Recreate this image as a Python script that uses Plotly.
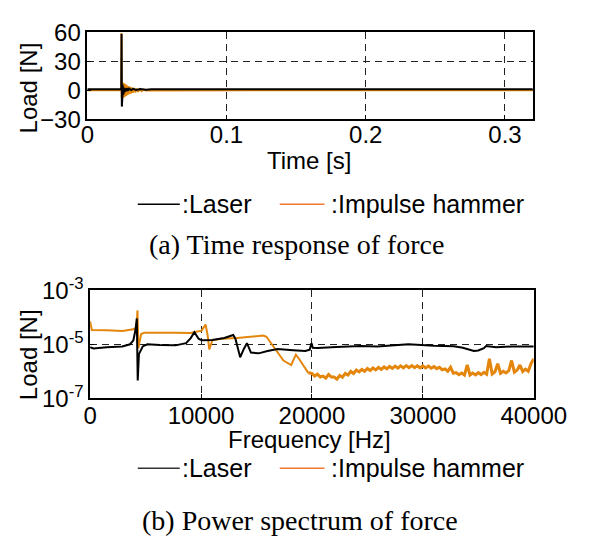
import plotly.graph_objects as go

# ---------------- data: (a) time response ----------------
laser_time_s = [0.0, 0.0244, 0.0246, 0.0248, 0.0250, 0.0252, 0.0254, 0.0256, 0.0258, 0.0261,
                0.0264, 0.0268, 0.0272, 0.0277, 0.0283, 0.0290, 0.0300, 0.0315, 0.0330,
                0.0350, 0.0380, 0.0420, 0.0460, 0.32]
laser_load_N = [0.8, 0.8, 58.0, -17.0, 9.0, -7.0, 5.5, -4.5, 3.5, -3.0,
                2.5, -2.0, 1.8, -1.0, 2.0, -0.5, 1.6, 0.0, 1.4,
                0.2, 1.2, 0.4, 1.0, 0.8]

hammer_time_s = [0.0, 0.0243, 0.0245, 0.0247, 0.0250, 0.0253, 0.0256, 0.0259, 0.0262, 0.0265,
                 0.0268, 0.0271, 0.0275, 0.0279, 0.0283, 0.0288, 0.0293, 0.0299, 0.0305,
                 0.0312, 0.0319, 0.0327, 0.0335, 0.0344, 0.0354, 0.0365, 0.0377, 0.0390,
                 0.0405, 0.0420, 0.32]
hammer_load_N = [0.0, 0.0, 59.0, -8.0, 8.0, -8.0, 7.5, -7.5, 7.0, -7.0,
                 6.5, -6.5, 6.0, -6.0, 5.0, -5.0, 4.2, -4.2, 3.5,
                 -3.5, 2.8, -2.8, 2.2, -2.2, 1.6, -1.6, 1.1, -1.1,
                 0.6, -0.3, 0.0]

# ---------------- data: (b) power spectrum ----------------
laser_freq_Hz = [0, 300, 1500, 2900, 3600, 3900, 4100, 4210, 4290, 4400, 4740, 5160, 6300, 7700,
                 8650, 9070, 9400, 9780, 10060, 11000, 12100, 12900, 13100, 13530, 13860, 14140,
                 14500, 15200, 16000, 16900, 18300, 19400, 19800, 19950, 20080, 20500, 22200,
                 24400, 25900, 28700, 31000, 32800, 33600, 34600, 35000, 35500, 35700, 36600,
                 38000, 40000]
laser_power = [7.8e-6, 7.0e-6, 7.8e-6, 8.3e-6, 1.0e-5, 1.4e-5, 3.6e-5, 9.1e-5, 4.5e-7, 4.3e-6,
               8.3e-6, 1.0e-5, 9.3e-6, 9.1e-6, 1.1e-5, 1.7e-5, 2.8e-5, 1.6e-5, 1.4e-5, 1.45e-5,
               1.7e-5, 2.2e-5, 1.6e-5, 3.3e-6, 6.7e-6, 1.1e-5, 4.9e-6, 4.6e-6, 5.6e-6, 6.7e-6,
               6.0e-6, 5.6e-6, 6.3e-6, 1.1e-5, 7.4e-6, 7.2e-6, 7.9e-6, 8.7e-6, 8.3e-6, 1.0e-5,
               8.9e-6, 8.5e-6, 7.4e-6, 5.6e-6, 5.9e-6, 7.2e-6, 8.6e-6, 7.7e-6, 8.3e-6, 8.3e-6]

# smooth part of the impulse-hammer spectrum (below ~20 kHz)
hammer_freq_Hz = [0, 150, 1500, 2900, 3900, 4180, 4270, 4350, 4600, 4880, 7700, 9070, 10050,
                  10410, 10600, 10740, 11020, 11850, 13250, 14640, 15620, 15900, 16320, 16880,
                  17430, 18130, 18550, 18830, 19250, 19670]
hammer_power = [7.1e-5, 3.4e-5, 3.3e-5, 3.1e-5, 3.6e-5, 4.2e-5, 1.8e-4, 7.3e-6, 2.4e-5, 2.7e-5,
                2.7e-5, 2.6e-5, 3.2e-5, 5.4e-5, 2.1e-5, 6.5e-6, 1.4e-5, 1.6e-5, 1.7e-5, 1.9e-5,
                2.1e-5, 1.9e-5, 1.1e-5, 4.9e-6, 2.5e-6, 1.7e-6, 4.1e-6, 2.9e-6, 1.5e-6, 8.7e-7]

# noisy part of the impulse-hammer spectrum (20-40 kHz)
hammer_noise_freq_Hz = [19670,
    20000, 20250, 20500, 20750, 21000, 21250, 21500, 21750, 22000, 22250,
    22500, 22750, 23000, 23250, 23500, 23750, 24000, 24250, 24500, 24750,
    25000, 25250, 25500, 25750, 26000, 26250, 26500, 26750, 27000, 27250,
    27500, 27750, 28000, 28250, 28500, 28750, 29000, 29250, 29500, 29750,
    30000, 30250, 30500, 30750, 31000, 31250, 31500, 31750, 32000, 32250,
    32500, 32750, 33000, 33250, 33500, 33750, 34000, 34250, 34500, 34750,
    35000, 35250, 35500, 35750, 36000, 36250, 36500, 36750, 37000, 37250,
    37500, 37750, 38000, 38250, 38500, 38750, 39000, 39250, 39500, 39750,
    40000]
hammer_noise_power = [8.7e-7,
    8.3e-7, 6.6e-7, 7.8e-7, 6.1e-7, 6.6e-7, 5.5e-7, 7.6e-7, 6.1e-7, 6.1e-7, 5.1e-7,
    6.9e-7, 6.0e-7, 8.3e-7, 7.2e-7, 9.8e-7, 8.2e-7, 1.1e-6, 9.4e-7, 1.17e-6, 1.0e-6,
    1.26e-6, 1.06e-6, 1.32e-6, 1.12e-6, 1.38e-6, 1.17e-6, 1.45e-6, 1.23e-6, 1.5e-6, 1.27e-6,
    1.55e-6, 1.3e-6, 1.58e-6, 1.33e-6, 1.61e-6, 1.35e-6, 1.62e-6, 1.36e-6, 1.6e-6, 1.34e-6,
    1.58e-6, 1.32e-6, 1.55e-6, 1.29e-6, 1.5e-6, 1.24e-6, 1.4e-6, 1.13e-6, 1.22e-6, 1.0e-6,
    1.4e-6, 8.4e-7, 8.9e-7, 7.4e-7, 8.6e-7, 7.2e-7, 1.7e-6, 7.2e-7, 8.6e-7, 7.3e-7,
    8.8e-7, 7.5e-7, 9.1e-7, 7.7e-7, 2.9e-6, 7.9e-7, 9.5e-7, 1.9e-6, 8.4e-7, 1.0e-6,
    8.6e-7, 1.05e-6, 2.5e-6, 9.2e-7, 1.1e-6, 1.7e-6, 9.8e-7, 1.2e-6, 1.0e-6, 1.9e-6,
    2.9e-6]

time_ticks = [0, 0.1, 0.2, 0.3]
time_tick_text = ["0", "0.1", "0.2", "0.3"]
load_ticks = [-30, 0, 30, 60]
freq_ticks = [0, 10000, 20000, 30000, 40000]
freq_tick_text = ["0", "10000", "20000", "30000", "40000"]
power_ticks = [1e-7, 1e-5, 1e-3]
power_tick_text = ["10<sup>-7</sup>", "10<sup>-5</sup>", "10<sup>-3</sup>"]

BLACK = "#000000"
ORANGE = "#E3860B"
LEG_ORANGE = "#F07A30"
SANS = "Liberation Sans, Arial, sans-serif"
SERIF = "Liberation Serif, Times New Roman, serif"

W, H = 606, 554


def px(x):
    return x / W


def py(y):
    return 1 - y / H


fig = go.Figure()
fig.add_trace(go.Scatter(x=hammer_time_s, y=hammer_load_N, mode="lines",
                         line=dict(color=ORANGE, width=2), xaxis="x", yaxis="y"))
fig.add_trace(go.Scatter(x=laser_time_s, y=laser_load_N, mode="lines",
                         line=dict(color=BLACK, width=2), xaxis="x", yaxis="y"))
fig.add_trace(go.Scatter(x=hammer_freq_Hz, y=hammer_power, mode="lines",
                         line=dict(color=ORANGE, width=2), xaxis="x2", yaxis="y2"))
fig.add_trace(go.Scatter(x=hammer_noise_freq_Hz, y=hammer_noise_power, mode="lines",
                         line=dict(color=ORANGE, width=3), xaxis="x2", yaxis="y2"))
fig.add_trace(go.Scatter(x=laser_freq_Hz, y=laser_power, mode="lines",
                         line=dict(color=BLACK, width=2), xaxis="x2", yaxis="y2"))

axis_common = dict(showline=True, mirror=True, linecolor="black", linewidth=1.5,
                   showgrid=True, gridcolor="#222222", gridwidth=1, griddash="7px,5px",
                   zeroline=False, ticks="inside", ticklen=4, tickcolor="black",
                   tickfont=dict(family=SANS, size=24, color="black"))

fig.update_layout(
    width=W, height=H, margin=dict(l=0, r=0, t=0, b=0),
    paper_bgcolor="white", plot_bgcolor="white", showlegend=False,
    xaxis=dict(domain=[px(86), px(563)], range=[0, 0.32], tickvals=time_ticks,
               ticktext=time_tick_text, anchor="y", ticklabelstandoff=-7, **axis_common),
    yaxis=dict(domain=[py(108), py(16)], range=[-30, 60], tickvals=load_ticks,
               anchor="x", **axis_common),
    xaxis2=dict(domain=[px(89), px(564)], range=[0, 40000], tickvals=freq_ticks,
                ticktext=freq_tick_text, anchor="y2", ticklabelstandoff=-5, **axis_common),
    yaxis2=dict(domain=[py(403), py(289)], type="log", range=[-7, -3], tickvals=power_ticks,
                ticktext=power_tick_text, anchor="x2", **axis_common),
)

ann = []
def text(x, y, s, size=24, family=SANS, angle=0, xanchor="center"):
    ann.append(dict(x=px(x), y=py(y), xref="paper", yref="paper", text=s, showarrow=False,
                    textangle=angle, xanchor=xanchor, yanchor="middle",
                    font=dict(family=family, size=size, color="black")))

text(23, 75, "Load [N]", angle=-90)
text(23, 357, "Load [N]", angle=-90)
text(323, 152, "Time [s]")
text(324, 447, "Frequency [Hz]")
# legends
for ly in (198, 477):
    text(185, ly, ":Laser", size=25, xanchor="left")
    text(345, ly, ":Impulse hammer", size=25, xanchor="left")
text(310, 241, "(a) Time response of force", size=28, family=SERIF)
text(314, 532, "(b) Power spectrum of force", size=28, family=SERIF)
fig.update_layout(annotations=ann)

shapes = []
for ly, col in ((198, "#000000"), (477, "#333333")):
    shapes.append(dict(type="line", xref="paper", yref="paper", x0=px(140), x1=px(185),
                       y0=py(ly), y1=py(ly), line=dict(color=col, width=1.5)))
    shapes.append(dict(type="line", xref="paper", yref="paper", x0=px(292), x1=px(340),
                       y0=py(ly), y1=py(ly), line=dict(color=LEG_ORANGE, width=1.5)))
fig.update_layout(shapes=shapes)

fig.write_html("out.html")
